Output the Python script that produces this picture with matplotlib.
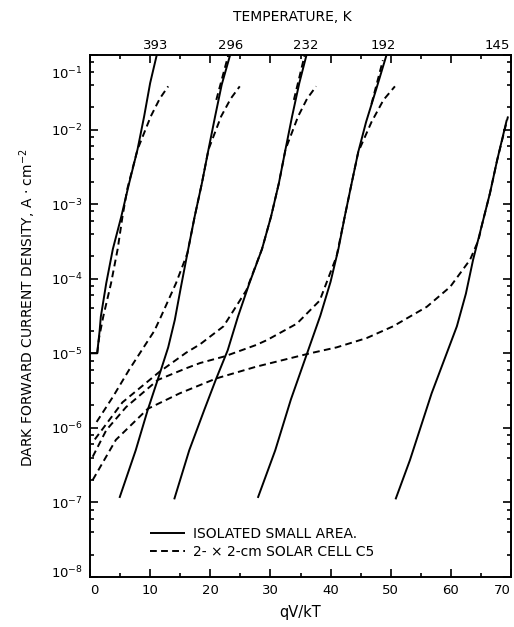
import matplotlib
matplotlib.use('Agg')
import matplotlib.pyplot as plt
from matplotlib.ticker import FixedLocator, FixedFormatter, MultipleLocator, LogLocator, NullFormatter
import matplotlib.transforms as mtransforms

plt.rcParams['font.family'] = ['DejaVu Sans']
plt.rcParams['mathtext.fontset'] = 'dejavusans'

# temperatures marked along the top edge
temps = ['393', '296', '232', '192', '145']
temp_x = [11.0, 23.3, 35.8, 48.8, 70.0]

xticks = [0, 10, 20, 30, 40, 50, 60, 70]

# isolated small area (solid), qV/kT vs current density A/cm^2
solid_393_x = [0.0, 1.2, 1.3, 1.6, 1.8, 2.7, 3.8, 5.2, 6.5, 7.9, 9.0, 10.0, 11.1]
solid_393_j = [1e-5, 1e-5, 1.2e-5, 2.0e-5, 3.1e-5, 8.7e-5, 2.5e-4, 6.8e-4, 1.9e-3, 5.4e-3, 1.5e-2, 4.2e-2, 1e-1]
solid_296_x = [4.9, 7.6, 9.6, 11.8, 13.0, 14.1, 15.1, 16.2, 17.4, 18.6, 19.7, 20.8, 21.9, 23.3]
solid_296_j = [1.15e-7, 5.0e-7, 1.74e-6, 6.0e-6, 1.2e-5, 2.8e-5, 7.6e-5, 2.2e-4, 6.8e-4, 1.9e-3, 5.4e-3, 1.5e-2, 4.0e-2, 1e-1]
solid_232_x = [14.0, 16.5, 19.0, 21.0, 22.9, 24.6, 26.5, 28.6, 30.1, 31.4, 32.5, 33.6, 34.8, 36.0]
solid_232_j = [1.1e-7, 5.0e-7, 1.74e-6, 4.6e-6, 1.1e-5, 3.1e-5, 8.7e-5, 2.5e-4, 6.8e-4, 1.9e-3, 5.4e-3, 1.5e-2, 4.2e-2, 1e-1]
solid_192_x = [27.9, 30.8, 33.4, 36.1, 38.3, 40.0, 41.3, 42.4, 43.5, 44.6, 45.9, 47.6, 49.3]
solid_192_j = [1.15e-7, 5.0e-7, 2.4e-6, 1.0e-5, 3.2e-5, 9.1e-5, 2.5e-4, 7.1e-4, 1.9e-3, 5.0e-3, 1.26e-2, 3.5e-2, 1e-1]
solid_145_x = [50.8, 53.2, 56.8, 61.0, 62.5, 63.7, 65.1, 66.5, 67.7, 69.3]
solid_145_j = [1.1e-7, 3.7e-7, 2.9e-6, 2.3e-5, 6.3e-5, 1.8e-4, 5.0e-4, 1.4e-3, 3.9e-3, 1.35e-2]

# 2 x 2 cm solar cell C5 (dashed)
dash_393_x = [1.2, 1.5, 2.2, 3.5, 4.6, 5.4, 6.2, 7.9, 10.1, 11.6, 13.0]
dash_393_j = [1.0e-5, 1.6e-5, 3.1e-5, 8.7e-5, 2.5e-4, 6.8e-4, 1.6e-3, 5.4e-3, 1.5e-2, 2.6e-2, 3.8e-2]
dash_296_x = [1.1, 3.8, 6.5, 9.0, 10.7, 11.8, 14.3, 16.2, 17.4, 18.6, 19.7, 21.8, 23.4, 24.9]
dash_296_j = [1.2e-6, 2.6e-6, 6.0e-6, 1.23e-5, 2.0e-5, 3.1e-5, 8.7e-5, 2.2e-4, 6.8e-4, 1.9e-3, 5.4e-3, 1.5e-2, 2.6e-2, 3.8e-2]
dash_232_x = [0.8, 5.4, 11.5, 16.0, 18.3, 22.2, 26.0, 28.6, 30.1, 31.4, 32.5, 34.6, 36.1, 37.6]
dash_232_j = [7.0e-7, 2.2e-6, 5.6e-6, 1.02e-5, 1.32e-5, 2.3e-5, 7.0e-5, 2.5e-4, 6.8e-4, 1.9e-3, 5.4e-3, 1.5e-2, 2.6e-2, 3.8e-2]
dash_192_x = [0.45, 2.7, 6.0, 11.3, 16.0, 18.3, 22.4, 27.6, 29.4, 34.4, 38.2, 41.0, 42.4, 43.5, 44.6, 46.8, 48.8, 50.7]
dash_192_j = [4.1e-7, 9.3e-7, 1.9e-6, 4.4e-6, 6.3e-6, 7.4e-6, 9.1e-6, 1.29e-5, 1.5e-5, 2.5e-5, 5.1e-5, 2.0e-4, 7.1e-4, 1.9e-3, 5.0e-3, 1.26e-2, 2.5e-2, 3.8e-2]
dash_145_x = [0.45, 4.3, 9.6, 14.9, 21.0, 27.6, 36.6, 41.0, 46.0, 50.4, 56.0, 59.9, 63.2, 64.6, 65.1, 66.5, 67.7, 69.5]
dash_145_j = [2.0e-7, 6.9e-7, 1.8e-6, 2.9e-6, 4.6e-6, 6.6e-6, 1.0e-5, 1.2e-5, 1.6e-5, 2.3e-5, 4.2e-5, 7.8e-5, 1.8e-4, 3.3e-4, 5.0e-4, 1.4e-3, 3.9e-3, 1.5e-2]
# short dashed pieces running up beside the solid curves near the top
dash_top_296_x = [21.0, 23.0]
dash_top_296_j = [2.5e-2, 1e-1]
dash_top_232_x = [33.9, 35.7]
dash_top_232_j = [2.5e-2, 1e-1]
dash_top_192_x = [46.8, 48.7]
dash_top_192_j = [2.2e-2, 8.5e-2]

fig = plt.figure(figsize=(5.14, 6.27), dpi=100)
ax = fig.add_axes([90 / 514, 1 - 577 / 627, 421 / 514, 522 / 627])

dashes = (0, (3.5, 2.2))
lw = 1.4

solids = [(solid_393_x, solid_393_j), (solid_296_x, solid_296_j), (solid_232_x, solid_232_j),
          (solid_192_x, solid_192_j), (solid_145_x, solid_145_j)]
dasheds = [(dash_393_x, dash_393_j), (dash_296_x, dash_296_j), (dash_232_x, dash_232_j),
           (dash_192_x, dash_192_j), (dash_145_x, dash_145_j),
           (dash_top_296_x, dash_top_296_j), (dash_top_232_x, dash_top_232_j),
           (dash_top_192_x, dash_top_192_j)]

for i, (xs, js) in enumerate(solids):
    ax.plot(xs, js, color='black', lw=lw, solid_capstyle='butt',
            label='ISOLATED SMALL AREA.' if i == 0 else None)
for i, (xs, js) in enumerate(dasheds):
    ax.plot(xs, js, color='black', lw=lw, linestyle=dashes,
            label='2- \u00d7 2-cm SOLAR CELL C5' if i == 0 else None)

ax.set_yscale('log')
ax.set_xlim(0, 70)
ax.set_ylim(1e-8, 1e-1)

# x ticks
ax.xaxis.set_major_locator(FixedLocator(xticks))
ax.xaxis.set_major_formatter(FixedFormatter([str(v) for v in xticks]))
ax.xaxis.set_minor_locator(MultipleLocator(5))

# y ticks
ylevels = [1e-8, 1e-7, 1e-6, 1e-5, 1e-4, 1e-3, 1e-2, 1e-1]
ylabels = ['', r'$10^{-7}$', r'$10^{-6}$', r'$10^{-5}$', r'$10^{-4}$', r'$10^{-3}$', r'$10^{-2}$', '']
ax.yaxis.set_major_locator(FixedLocator(ylevels))
ax.yaxis.set_major_formatter(FixedFormatter(ylabels))
ax.yaxis.set_minor_locator(LogLocator(base=10, subs=[2, 4, 6, 8], numticks=20))
ax.yaxis.set_minor_formatter(NullFormatter())

ax.tick_params(which='both', direction='in', top=True, right=True, width=1.2, labelsize=9.5)
ax.tick_params(which='major', length=6, pad=5)
ax.tick_params(which='minor', length=3)
for s in ax.spines.values():
    s.set_linewidth(1.4)

# first and last x labels are pulled inside the frame
xl = ax.get_xticklabels()
xl[0].set_horizontalalignment('left')
xl[-1].set_horizontalalignment('right')

# end labels sit inside the decade
trans = mtransforms.blended_transform_factory(ax.transAxes, ax.transData)
ax.text(-0.017, 10 ** -1.23, r'$10^{-1}$', transform=trans, ha='right', va='center_baseline', fontsize=9.5)
ax.text(-0.017, 10 ** -7.93, r'$10^{-8}$', transform=trans, ha='right', va='center_baseline', fontsize=9.5)

# temperature labels along the top (last one flush with the right edge)
for i, (t, tx) in enumerate(zip(temps, temp_x)):
    last = i == len(temps) - 1
    ax.annotate(t, xy=(tx, 1.0), xycoords=('data', 'axes fraction'),
                xytext=(-1 if last else 0, 2.5), textcoords='offset points',
                ha='right' if last else 'center', va='bottom', fontsize=9.5)

fig.text(292 / 514, 1 - 17 / 627, 'TEMPERATURE, K', ha='center', va='center', fontsize=10)
fig.text(300 / 514, 1 - 613 / 627, 'qV/kT', ha='center', va='center', fontsize=10.5)
fig.text(28 / 514, 1 - 308 / 627, r'DARK FORWARD CURRENT DENSITY, A $\cdot$ cm$^{-2}$',
         rotation=90, ha='center', va='center', fontsize=10)

ax.legend(loc='center left', bbox_to_anchor=(0.1425, 0.065), frameon=False, fontsize=10,
          handlelength=2.5, handletextpad=0.6, labelspacing=0.3, borderpad=0, borderaxespad=0)

fig.savefig('out.png', dpi=100)
